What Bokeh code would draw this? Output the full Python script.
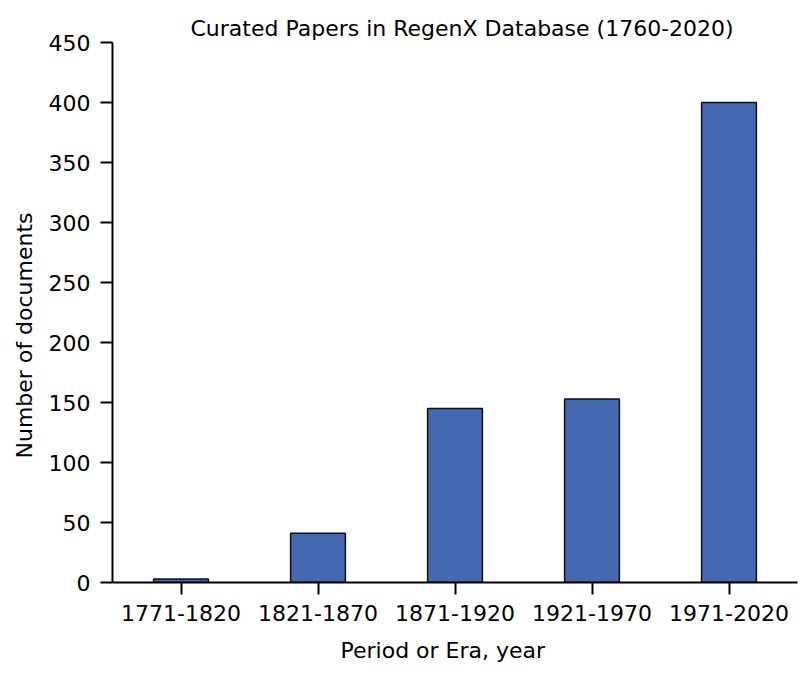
from bokeh.plotting import figure
from bokeh.models import Range1d, FactorRange, Title, FixedTicker
from bokeh.embed import file_html
from bokeh.resources import INLINE

periods = ["1771-1820", "1821-1870", "1871-1920", "1921-1970", "1971-2020"]
documents = [3, 41, 145, 153, 400]
y_ticks = [0, 50, 100, 150, 200, 250, 300, 350, 400, 450]

FONT = "DejaVu Sans"

p = figure(width=803, height=675, x_range=FactorRange(*periods), y_range=Range1d(0, 450),
           output_backend="svg", toolbar_location=None,
           min_border_left=112, min_border_right=6, min_border_top=42, min_border_bottom=93)

p.vbar(x=periods, top=documents, width=0.4, fill_color="#4569B0",
       line_color="#111111", line_width=1.5)

p.outline_line_color = None
p.xgrid.grid_line_color = None
p.ygrid.grid_line_color = None
p.x_range.range_padding = 0

for ax in (p.xaxis, p.yaxis):
    ax.axis_line_color = "black"
    ax.axis_line_width = 2
    ax.major_tick_line_color = "black"
    ax.major_tick_line_width = 2
    ax.major_tick_out = 12
    ax.major_tick_in = 0
    ax.minor_tick_line_color = None
    ax.major_label_text_font = FONT
    ax.major_label_text_font_size = "22px"
    ax.major_label_text_color = "black"
    ax.major_label_standoff = 10

p.yaxis.ticker = FixedTicker(ticks=y_ticks)

p.title.text = "Curated Papers in RegenX Database (1760-2020)"
p.title.text_font = FONT
p.title.text_font_size = "22px"
p.title.text_font_style = "normal"
p.title.align = "left"
p.title.offset = 78
p.title.standoff = 4
p.title.text_color = "black"

p.add_layout(Title(text="Period or Era, year", text_font=FONT, text_font_size="22px",
                   text_font_style="normal", align="left", offset=228, standoff=25,
                   text_color="black"), "below")
p.add_layout(Title(text="Number of documents", text_font=FONT, text_font_size="22px",
                   text_font_style="normal", align="left", offset=124, standoff=18,
                   text_color="black"), "left")

open("out.html", "w").write(file_html(p, INLINE))
